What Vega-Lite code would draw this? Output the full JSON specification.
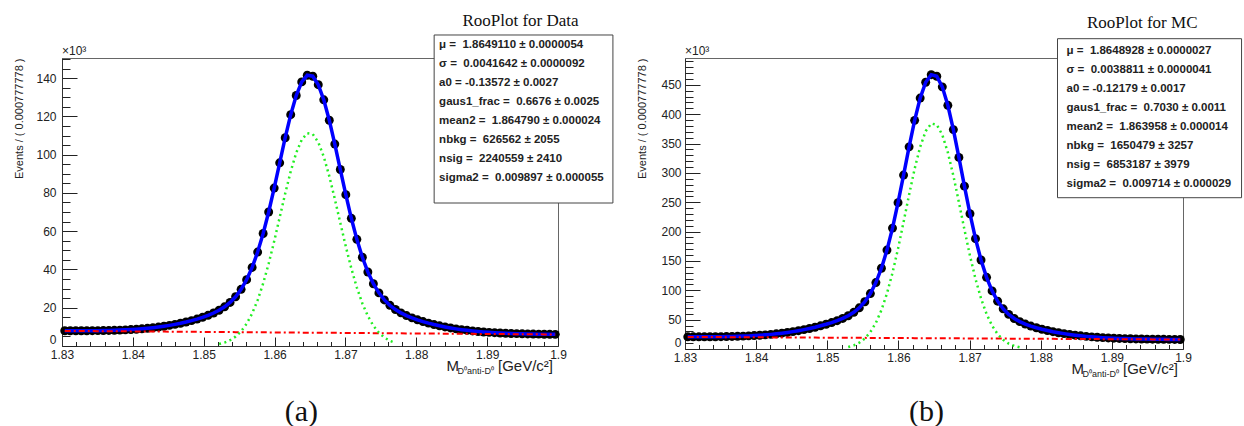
{
"$schema": "https://vega.github.io/schema/vega-lite/v6.json",
"padding": {"left": 12, "top": 11, "right": 0, "bottom": 0},
"background": "white",
"bounds": "flush",
"spacing": 127,
"config": {
  "view": {"stroke": "#666", "strokeWidth": 1},
  "axis": {"grid": false, "labelFont": "Liberation Sans", "titleFont": "Liberation Sans", "labelColor": "#222", "tickColor": "#222", "domainColor": "#333", "labelFontSize": 12, "titleFontSize": 11, "titleFontWeight": "normal", "titleColor": "#222", "labelFlush": false, "labelOverlap": false}
},
"datasets": {
"a": [
{"m":1.830389,"n":7.95,"b":7.90},{"m":1.831167,"n":7.95,"b":7.88},{"m":1.831944,"n":7.95,"b":7.85},{"m":1.832722,"n":7.96,"b":7.83},{"m":1.8335,"n":7.97,"b":7.81},{"m":1.834278,"n":7.99,"b":7.79},{"m":1.835056,"n":8.03,"b":7.77},{"m":1.835833,"n":8.07,"b":7.75},{"m":1.836611,"n":8.13,"b":7.73},{"m":1.837389,"n":8.21,"b":7.71},
{"m":1.838167,"n":8.31,"b":7.69},{"m":1.838944,"n":8.44,"b":7.67},{"m":1.839722,"n":8.59,"b":7.64},{"m":1.8405,"n":8.77,"b":7.62},{"m":1.841278,"n":8.99,"b":7.60},{"m":1.842056,"n":9.25,"b":7.58},{"m":1.842833,"n":9.55,"b":7.56},{"m":1.843611,"n":9.90,"b":7.54},{"m":1.844389,"n":10.31,"b":7.52},{"m":1.845167,"n":10.77,"b":7.50},
{"m":1.845944,"n":11.29,"b":7.48},{"m":1.846722,"n":11.87,"b":7.46},{"m":1.8475,"n":12.53,"b":7.43},{"m":1.848278,"n":13.26,"b":7.41},{"m":1.849056,"n":14.07,"b":7.39},{"m":1.849833,"n":14.98,"b":7.37},{"m":1.850611,"n":16.03,"b":7.35},{"m":1.851389,"n":17.24,"b":7.33},{"m":1.852167,"n":18.69,"b":7.31,"g":1.03},{"m":1.852944,"n":20.49,"b":7.29,"g":1.79},
{"m":1.853722,"n":22.78,"b":7.27,"g":3.02},{"m":1.8545,"n":25.74,"b":7.25,"g":4.90},{"m":1.855278,"n":29.61,"b":7.22,"g":7.67},{"m":1.856056,"n":34.64,"b":7.20,"g":11.62},{"m":1.856833,"n":41.07,"b":7.18,"g":16.99},{"m":1.857611,"n":49.08,"b":7.16,"g":23.97},{"m":1.858389,"n":58.77,"b":7.14,"g":32.69},{"m":1.859167,"n":70.02,"b":7.12,"g":43.04},{"m":1.859944,"n":82.53,"b":7.10,"g":54.72},{"m":1.860722,"n":95.73,"b":7.08,"g":67.20},
{"m":1.8615,"n":108.83,"b":7.06,"g":79.68},{"m":1.862278,"n":120.89,"b":7.04,"g":91.25},{"m":1.863056,"n":130.92,"b":7.01,"g":100.92},{"m":1.863833,"n":138.01,"b":6.99,"g":107.78},{"m":1.864611,"n":141.48,"b":6.97,"g":111.16},{"m":1.865389,"n":140.98,"b":6.95,"g":110.72},{"m":1.866167,"n":136.55,"b":6.93,"g":106.50},{"m":1.866944,"n":128.64,"b":6.91,"g":98.93},{"m":1.867722,"n":117.98,"b":6.89,"g":88.74},{"m":1.8685,"n":105.51,"b":6.87,"g":76.88},
{"m":1.869278,"n":92.23,"b":6.85,"g":64.32},{"m":1.870056,"n":79.06,"b":6.83,"g":51.96},{"m":1.870833,"n":66.73,"b":6.80,"g":40.55},{"m":1.871611,"n":55.74,"b":6.78,"g":30.55},{"m":1.872389,"n":46.38,"b":6.76,"g":22.23},{"m":1.873167,"n":38.68,"b":6.74,"g":15.62},{"m":1.873944,"n":32.54,"b":6.72,"g":10.60},{"m":1.874722,"n":27.76,"b":6.70,"g":6.95},{"m":1.8755,"n":24.08,"b":6.68,"g":4.40},{"m":1.876278,"n":21.25,"b":6.66,"g":2.69},
{"m":1.877056,"n":19.06,"b":6.64,"g":1.59},{"m":1.877833,"n":17.32,"b":6.62},{"m":1.878611,"n":15.90,"b":6.59},{"m":1.879389,"n":14.70,"b":6.57},{"m":1.880167,"n":13.67,"b":6.55},{"m":1.880944,"n":12.76,"b":6.53},{"m":1.881722,"n":11.95,"b":6.51},{"m":1.8825,"n":11.21,"b":6.49},{"m":1.883278,"n":10.55,"b":6.47},{"m":1.884056,"n":9.96,"b":6.45},
{"m":1.884833,"n":9.43,"b":6.43},{"m":1.885611,"n":8.96,"b":6.41},{"m":1.886389,"n":8.54,"b":6.38},{"m":1.887167,"n":8.18,"b":6.36},{"m":1.887944,"n":7.86,"b":6.34},{"m":1.888722,"n":7.58,"b":6.32},{"m":1.8895,"n":7.33,"b":6.30},{"m":1.890278,"n":7.13,"b":6.28},{"m":1.891056,"n":6.95,"b":6.26},{"m":1.891833,"n":6.80,"b":6.24},
{"m":1.892611,"n":6.67,"b":6.22},{"m":1.893389,"n":6.55,"b":6.20},{"m":1.894167,"n":6.46,"b":6.17},{"m":1.894944,"n":6.38,"b":6.15},{"m":1.895722,"n":6.31,"b":6.13},{"m":1.8965,"n":6.25,"b":6.11},{"m":1.897278,"n":6.20,"b":6.09},{"m":1.898056,"n":6.15,"b":6.07},{"m":1.898833,"n":6.11,"b":6.05},{"m":1.899611,"n":6.08,"b":6.03}
],
"b": [
{"m":1.830389,"n":20.71,"b":20.55},{"m":1.831167,"n":20.72,"b":20.50},{"m":1.831944,"n":20.73,"b":20.45},{"m":1.832722,"n":20.77,"b":20.40},{"m":1.8335,"n":20.83,"b":20.35},{"m":1.834278,"n":20.91,"b":20.30},{"m":1.835056,"n":21.03,"b":20.25},{"m":1.835833,"n":21.18,"b":20.20},{"m":1.836611,"n":21.39,"b":20.15},{"m":1.837389,"n":21.64,"b":20.10},
{"m":1.838167,"n":21.97,"b":20.05},{"m":1.838944,"n":22.36,"b":20.00},{"m":1.839722,"n":22.85,"b":19.95},{"m":1.8405,"n":23.42,"b":19.90},{"m":1.841278,"n":24.11,"b":19.85},{"m":1.842056,"n":24.92,"b":19.80},{"m":1.842833,"n":25.86,"b":19.75},{"m":1.843611,"n":26.95,"b":19.70},{"m":1.844389,"n":28.20,"b":19.65},{"m":1.845167,"n":29.61,"b":19.60},
{"m":1.845944,"n":31.20,"b":19.55},{"m":1.846722,"n":32.97,"b":19.50},{"m":1.8475,"n":34.93,"b":19.46},{"m":1.848278,"n":37.07,"b":19.41},{"m":1.849056,"n":39.50,"b":19.36},{"m":1.849833,"n":42.11,"b":19.31},{"m":1.850611,"n":45.00,"b":19.26},{"m":1.851389,"n":48.26,"b":19.21},{"m":1.852167,"n":52.06,"b":19.16},{"m":1.852944,"n":56.67,"b":19.11,"g":3.37},
{"m":1.853722,"n":62.50,"b":19.06,"g":6.12},{"m":1.8545,"n":70.16,"b":19.01,"g":10.68},{"m":1.855278,"n":80.48,"b":18.96,"g":17.91},{"m":1.856056,"n":94.44,"b":18.91,"g":28.84},{"m":1.856833,"n":113.14,"b":18.86,"g":44.60},{"m":1.857611,"n":137.60,"b":18.81,"g":66.27},{"m":1.858389,"n":168.52,"b":18.76,"g":94.59},{"m":1.859167,"n":205.99,"b":18.71,"g":129.71},{"m":1.859944,"n":249.25,"b":18.66,"g":170.89},{"m":1.860722,"n":296.36,"b":18.61,"g":216.24},
{"m":1.8615,"n":344.40,"b":18.56,"g":262.87},{"m":1.862278,"n":389.54,"b":18.51,"g":306.97},{"m":1.863056,"n":427.56,"b":18.46,"g":344.36},{"m":1.863833,"n":454.53,"b":18.41,"g":371.10},{"m":1.864611,"n":467.41,"b":18.36,"g":384.17},{"m":1.865389,"n":464.68,"b":18.31,"g":382.05},{"m":1.866167,"n":446.61,"b":18.26,"g":364.98},{"m":1.866944,"n":415.18,"b":18.21,"g":334.95},{"m":1.867722,"n":373.77,"b":18.17,"g":295.29},{"m":1.8685,"n":326.47,"b":18.12,"g":250.07},
{"m":1.869278,"n":277.48,"b":18.07,"g":203.45},{"m":1.870056,"n":230.40,"b":18.02,"g":158.99},{"m":1.870833,"n":187.96,"b":17.97,"g":119.38},{"m":1.871611,"n":151.69,"b":17.92,"g":86.10},{"m":1.872389,"n":122.12,"b":17.87,"g":59.64},{"m":1.873167,"n":99.00,"b":17.82,"g":39.69},{"m":1.873944,"n":81.48,"b":17.77,"g":25.38},{"m":1.874722,"n":68.50,"b":17.72,"g":15.59},{"m":1.8755,"n":58.97,"b":17.67,"g":9.20},{"m":1.876278,"n":51.93,"b":17.62,"g":5.22},
{"m":1.877056,"n":46.61,"b":17.57,"g":2.84},{"m":1.877833,"n":42.45,"b":17.52},{"m":1.878611,"n":39.06,"b":17.47},{"m":1.879389,"n":36.20,"b":17.42},{"m":1.880167,"n":33.70,"b":17.37},{"m":1.880944,"n":31.49,"b":17.32},{"m":1.881722,"n":29.49,"b":17.27},{"m":1.8825,"n":27.74,"b":17.22},{"m":1.883278,"n":26.17,"b":17.17},{"m":1.884056,"n":24.77,"b":17.12},
{"m":1.884833,"n":23.54,"b":17.07},{"m":1.885611,"n":22.44,"b":17.02},{"m":1.886389,"n":21.50,"b":16.97},{"m":1.887167,"n":20.67,"b":16.92},{"m":1.887944,"n":19.96,"b":16.87},{"m":1.888722,"n":19.35,"b":16.82},{"m":1.8895,"n":18.83,"b":16.78},{"m":1.890278,"n":18.38,"b":16.73},{"m":1.891056,"n":18.00,"b":16.68},{"m":1.891833,"n":17.69,"b":16.63},
{"m":1.892611,"n":17.42,"b":16.58},{"m":1.893389,"n":17.19,"b":16.53},{"m":1.894167,"n":16.99,"b":16.48},{"m":1.894944,"n":16.83,"b":16.43},{"m":1.895722,"n":16.69,"b":16.38},{"m":1.8965,"n":16.57,"b":16.33},{"m":1.897278,"n":16.46,"b":16.28},{"m":1.898056,"n":16.37,"b":16.23},{"m":1.898833,"n":16.28,"b":16.18},{"m":1.899611,"n":16.21,"b":16.13}
],
"statsA": [
{"order":1,"label":"μ = \u00a01.8649110 ± 0.0000054"},
{"order":2,"label":"σ = \u00a00.0041642 ± 0.0000092"},
{"order":3,"label":"a0 = -0.13572 ± 0.0027"},
{"order":4,"label":"gaus1_frac = \u00a00.6676 ± 0.0025"},
{"order":5,"label":"mean2 = \u00a01.864790 ± 0.000024"},
{"order":6,"label":"nbkg = \u00a0626562 ± 2055"},
{"order":7,"label":"nsig = \u00a02240559 ± 2410"},
{"order":8,"label":"sigma2 = \u00a00.009897 ± 0.000055"}
],
"statsB": [
{"order":1,"label":"μ = \u00a01.8648928 ± 0.0000027"},
{"order":2,"label":"σ = \u00a00.0038811 ± 0.0000041"},
{"order":3,"label":"a0 = -0.12179 ± 0.0017"},
{"order":4,"label":"gaus1_frac = \u00a00.7030 ± 0.0011"},
{"order":5,"label":"mean2 = \u00a01.863958 ± 0.000014"},
{"order":6,"label":"nbkg = \u00a01650479 ± 3257"},
{"order":7,"label":"nsig = \u00a06853187 ± 3979"},
{"order":8,"label":"sigma2 = \u00a00.009714 ± 0.000029"}
]
},
"hconcat": [
{
  "width": 496, "height": 288,
  "layer": [
    {
      "layer": [
        {"data": {"name": "a"}, "mark": {"type": "point", "filled": true, "shape": "circle", "size": 80, "color": "#000", "opacity": 1},
         "encoding": {
           "x": {"field": "m", "type": "quantitative", "scale": {"domain": [1.83, 1.9], "nice": false, "zero": false},
                 "axis": {"orient": "bottom", "values": [1.83,1.84,1.85,1.86,1.87,1.88,1.89,1.9], "format": ".3~g", "tickSize": -9, "labelPadding": 12, "title": null}},
           "y": {"field": "n", "type": "quantitative", "scale": {"domain": [0, 150.5], "nice": false, "zero": false},
                 "axis": {"orient": "left", "values": [0,20,40,60,80,100,120,140], "format": "d", "tickSize": -15, "labelPadding": 21, "labelFlush": true, "minExtent": 30, "maxExtent": 30, "title": "Events / ( 0.000777778 )", "titleAnchor": "end", "titlePadding": 7.5}}}},
        {"data": {"name": "a"}, "mark": {"type": "line", "color": "#0000ff", "strokeWidth": 3.5},
         "encoding": {
           "x": {"field": "m", "type": "quantitative", "axis": {"orient": "bottom", "values": [1.832,1.834,1.836,1.838,1.842,1.844,1.846,1.848,1.852,1.854,1.856,1.858,1.862,1.864,1.866,1.868,1.872,1.874,1.876,1.878,1.882,1.884,1.886,1.888,1.892,1.894,1.896,1.898], "tickSize": -4.5, "labels": false, "domain": false, "title": null}},
           "y": {"field": "n", "type": "quantitative", "axis": {"orient": "left", "values": [5,10,15,25,30,35,45,50,55,65,70,75,85,90,95,105,110,115,125,130,135,145,150], "tickSize": -8, "labels": false, "domain": false, "title": null}}}},
        {"data": {"name": "a"}, "mark": {"type": "line", "color": "#ff0000", "strokeWidth": 2, "strokeDash": [6, 3, 2, 3]},
         "encoding": {"x": {"field": "m", "type": "quantitative", "axis": null}, "y": {"field": "b", "type": "quantitative", "axis": null}}},
        {"data": {"name": "a"}, "mark": {"type": "line", "color": "#22ee22", "strokeWidth": 2.5, "strokeDash": [2, 3.5]},
         "encoding": {"x": {"field": "m", "type": "quantitative", "axis": null}, "y": {"field": "g", "type": "quantitative", "axis": null}}},
        {"data": {"values": [{"t": "×10³"}]}, "mark": {"type": "text", "align": "left", "baseline": "alphabetic", "dy": -3, "font": "Liberation Sans", "fontSize": 12, "color": "#222"},
         "encoding": {"x": {"datum": 1.83, "type": "quantitative", "axis": null}, "y": {"datum": 150.5, "type": "quantitative", "axis": null}, "text": {"field": "t"}}},
        {"data": {"values": [{"t": "RooPlot for Data"}]}, "mark": {"type": "text", "align": "center", "baseline": "alphabetic", "dy": -32, "font": "Liberation Serif", "fontSize": 17, "color": "#111"},
         "encoding": {"x": {"datum": 1.89471, "type": "quantitative", "axis": null}, "y": {"datum": 150.5, "type": "quantitative", "axis": null}, "text": {"field": "t"}}},
        {"data": {"values": [{"t": "[GeV/c²]"}]}, "mark": {"type": "text", "align": "right", "baseline": "alphabetic", "dx": -5, "dy": 25, "font": "Liberation Sans", "fontSize": 15, "color": "#222"},
         "encoding": {"x": {"datum": 1.9, "type": "quantitative", "axis": null}, "y": {"datum": 0, "type": "quantitative", "axis": null}, "text": {"field": "t"}}},
        {"data": {"values": [{"t": "D⁰anti-D⁰"}]}, "mark": {"type": "text", "align": "right", "baseline": "alphabetic", "dx": -64, "dy": 28, "font": "Liberation Sans", "fontSize": 9, "color": "#222"},
         "encoding": {"x": {"datum": 1.9, "type": "quantitative", "axis": null}, "y": {"datum": 0, "type": "quantitative", "axis": null}, "text": {"field": "t"}}},
        {"data": {"values": [{"t": "M"}]}, "mark": {"type": "text", "align": "right", "baseline": "alphabetic", "dx": -99, "dy": 25, "font": "Liberation Sans", "fontSize": 15, "color": "#222"},
         "encoding": {"x": {"datum": 1.9, "type": "quantitative", "axis": null}, "y": {"datum": 0, "type": "quantitative", "axis": null}, "text": {"field": "t"}}},
        {"data": {"values": [{"t": "(a)"}]}, "mark": {"type": "text", "align": "center", "baseline": "alphabetic", "dy": 75, "font": "Liberation Serif", "fontSize": 30, "color": "#111"},
         "encoding": {"x": {"datum": 1.86377, "type": "quantitative", "axis": null}, "y": {"datum": 0, "type": "quantitative", "axis": null}, "text": {"field": "t"}}}
      ],
      "resolve": {"axis": {"x": "independent", "y": "independent"}}
    },
    {
      "layer": [
        {"data": {"values": [{}]}, "mark": {"type": "rect", "fill": "white", "stroke": "#444", "strokeWidth": 1},
         "encoding": {"x": {"datum": 1.88252, "type": "quantitative", "axis": null}, "x2": {"datum": 1.90775},
                      "y": {"datum": 0.489, "type": "quantitative", "scale": {"domain": [1.7, 16.858], "reverse": true, "nice": false, "zero": false}, "axis": null}, "y2": {"datum": 9.332}}},
        {"data": {"name": "statsA"}, "mark": {"type": "text", "align": "left", "baseline": "middle", "font": "Liberation Sans", "fontWeight": "bold", "fontSize": 11.5, "color": "#222"},
         "encoding": {"x": {"datum": 1.88322, "type": "quantitative", "axis": null}, "y": {"field": "order", "type": "quantitative", "axis": null}, "text": {"field": "label"}}}
      ]
    }
  ],
  "resolve": {"scale": {"y": "independent"}, "axis": {"x": "independent", "y": "independent"}}
},
{
  "width": 498, "height": 291,
  "layer": [
    {
      "layer": [
        {"data": {"name": "b"}, "mark": {"type": "point", "filled": true, "shape": "circle", "size": 80, "color": "#000", "opacity": 1},
         "encoding": {
           "x": {"field": "m", "type": "quantitative", "scale": {"domain": [1.83, 1.9], "nice": false, "zero": false},
                 "axis": {"orient": "bottom", "values": [1.83,1.84,1.85,1.86,1.87,1.88,1.89,1.9], "format": ".3~g", "tickSize": -9, "labelPadding": 12, "title": null}},
           "y": {"field": "n", "type": "quantitative", "scale": {"domain": [0, 495.8], "nice": false, "zero": false},
                 "axis": {"orient": "left", "values": [0,50,100,150,200,250,300,350,400,450], "format": "d", "tickSize": -15, "labelPadding": 19, "labelFlush": true, "minExtent": 30, "maxExtent": 30, "title": "Events / ( 0.000777778 )", "titleAnchor": "end", "titlePadding": 7.5}}}},
        {"data": {"name": "b"}, "mark": {"type": "line", "color": "#0000ff", "strokeWidth": 3.5},
         "encoding": {
           "x": {"field": "m", "type": "quantitative", "axis": {"orient": "bottom", "values": [1.832,1.834,1.836,1.838,1.842,1.844,1.846,1.848,1.852,1.854,1.856,1.858,1.862,1.864,1.866,1.868,1.872,1.874,1.876,1.878,1.882,1.884,1.886,1.888,1.892,1.894,1.896,1.898], "tickSize": -4.5, "labels": false, "domain": false, "title": null}},
           "y": {"field": "n", "type": "quantitative", "axis": {"orient": "left", "values": [10,20,30,40,60,70,80,90,110,120,130,140,160,170,180,190,210,220,230,240,260,270,280,290,310,320,330,340,360,370,380,390,410,420,430,440,460,470,480,490], "tickSize": -8, "labels": false, "domain": false, "title": null}}}},
        {"data": {"name": "b"}, "mark": {"type": "line", "color": "#ff0000", "strokeWidth": 2, "strokeDash": [6, 3, 2, 3]},
         "encoding": {"x": {"field": "m", "type": "quantitative", "axis": null}, "y": {"field": "b", "type": "quantitative", "axis": null}}},
        {"data": {"name": "b"}, "mark": {"type": "line", "color": "#22ee22", "strokeWidth": 2.5, "strokeDash": [2, 3.5]},
         "encoding": {"x": {"field": "m", "type": "quantitative", "axis": null}, "y": {"field": "g", "type": "quantitative", "axis": null}}},
        {"data": {"values": [{"t": "×10³"}]}, "mark": {"type": "text", "align": "left", "baseline": "alphabetic", "dy": -3, "font": "Liberation Sans", "fontSize": 12, "color": "#222"},
         "encoding": {"x": {"datum": 1.83, "type": "quantitative", "axis": null}, "y": {"datum": 495.8, "type": "quantitative", "axis": null}, "text": {"field": "t"}}},
        {"data": {"values": [{"t": "RooPlot for MC"}]}, "mark": {"type": "text", "align": "center", "baseline": "alphabetic", "dy": -30, "font": "Liberation Serif", "fontSize": 17, "color": "#111"},
         "encoding": {"x": {"datum": 1.89427, "type": "quantitative", "axis": null}, "y": {"datum": 495.8, "type": "quantitative", "axis": null}, "text": {"field": "t"}}},
        {"data": {"values": [{"t": "[GeV/c²]"}]}, "mark": {"type": "text", "align": "right", "baseline": "alphabetic", "dx": -5, "dy": 25, "font": "Liberation Sans", "fontSize": 15, "color": "#222"},
         "encoding": {"x": {"datum": 1.9, "type": "quantitative", "axis": null}, "y": {"datum": 0, "type": "quantitative", "axis": null}, "text": {"field": "t"}}},
        {"data": {"values": [{"t": "D⁰anti-D⁰"}]}, "mark": {"type": "text", "align": "right", "baseline": "alphabetic", "dx": -64, "dy": 28, "font": "Liberation Sans", "fontSize": 9, "color": "#222"},
         "encoding": {"x": {"datum": 1.9, "type": "quantitative", "axis": null}, "y": {"datum": 0, "type": "quantitative", "axis": null}, "text": {"field": "t"}}},
        {"data": {"values": [{"t": "M"}]}, "mark": {"type": "text", "align": "right", "baseline": "alphabetic", "dx": -99, "dy": 25, "font": "Liberation Sans", "fontSize": 15, "color": "#222"},
         "encoding": {"x": {"datum": 1.9, "type": "quantitative", "axis": null}, "y": {"datum": 0, "type": "quantitative", "axis": null}, "text": {"field": "t"}}},
        {"data": {"values": [{"t": "(b)"}]}, "mark": {"type": "text", "align": "center", "baseline": "alphabetic", "dy": 72, "font": "Liberation Serif", "fontSize": 30, "color": "#111"},
         "encoding": {"x": {"datum": 1.86395, "type": "quantitative", "axis": null}, "y": {"datum": 0, "type": "quantitative", "axis": null}, "text": {"field": "t"}}}
      ],
      "resolve": {"axis": {"x": "independent", "y": "independent"}}
    },
    {
      "layer": [
        {"data": {"values": [{}]}, "mark": {"type": "rect", "fill": "white", "stroke": "#444", "strokeWidth": 1},
         "encoding": {"x": {"datum": 1.88236, "type": "quantitative", "axis": null}, "x2": {"datum": 1.90823},
                      "y": {"datum": 0.368, "type": "quantitative", "scale": {"domain": [1.384, 16.7], "reverse": true, "nice": false, "zero": false}, "axis": null}, "y2": {"datum": 8.737}}},
        {"data": {"name": "statsB"}, "mark": {"type": "text", "align": "left", "baseline": "middle", "font": "Liberation Sans", "fontWeight": "bold", "fontSize": 11.5, "color": "#222"},
         "encoding": {"x": {"datum": 1.88363, "type": "quantitative", "axis": null}, "y": {"field": "order", "type": "quantitative", "axis": null}, "text": {"field": "label"}}}
      ]
    }
  ],
  "resolve": {"scale": {"y": "independent"}, "axis": {"x": "independent", "y": "independent"}}
}
]
}
